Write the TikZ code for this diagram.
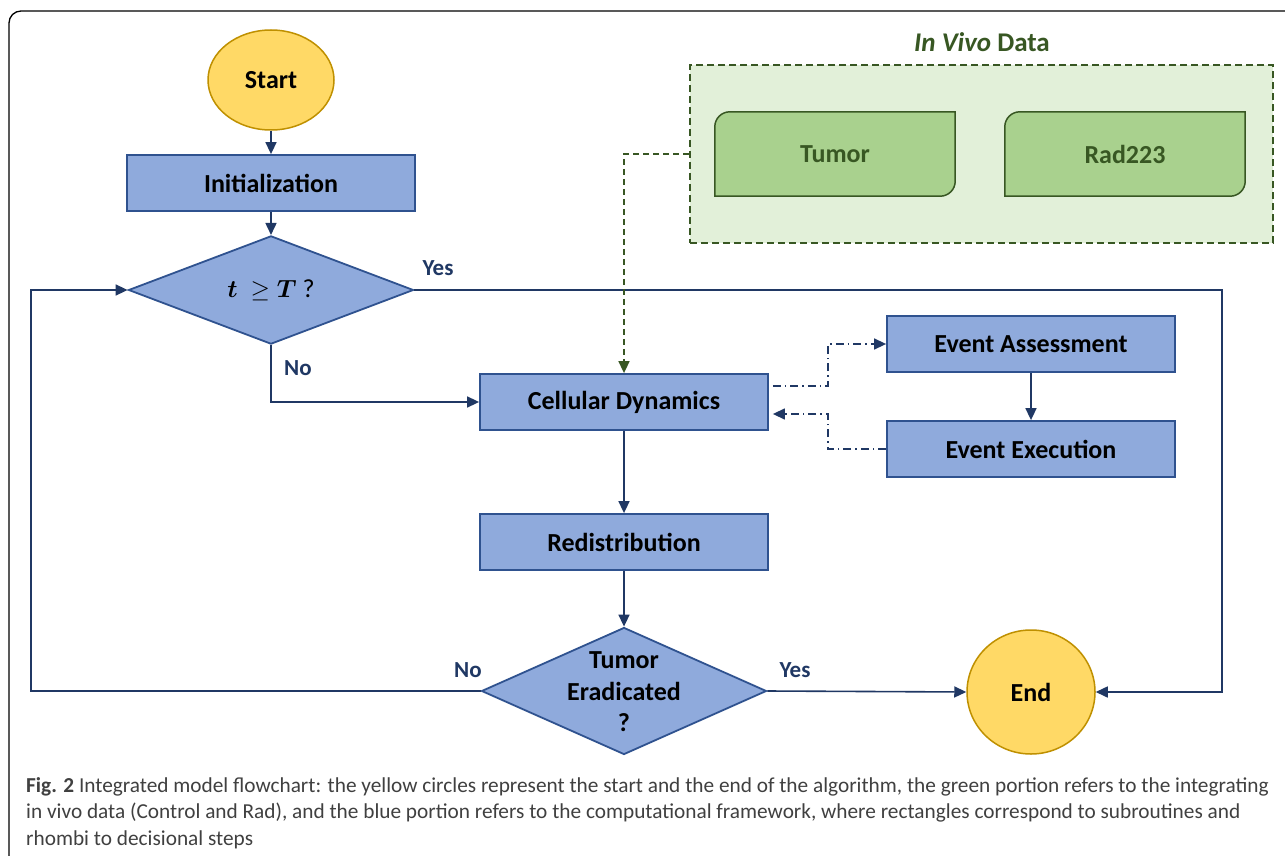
\documentclass[tikz,border=0pt]{standalone}
\usepackage{fontspec}
\setmainfont{Carlito}
\usepackage{amsmath,amssymb}
\usepackage{bm}
\usepackage{xcolor}
\usetikzlibrary{shapes.geometric,arrows.meta}
\definecolor{FlowBlue}{HTML}{8FAADC}
\definecolor{FlowBorder}{HTML}{2F528F}
\definecolor{FlowLine}{HTML}{203864}
\definecolor{TermYellow}{HTML}{FFD966}
\definecolor{TermBorder}{HTML}{BF9000}
\definecolor{DataBg}{HTML}{E2F0D9}
\definecolor{DataFill}{HTML}{A9D18E}
\definecolor{DataGreen}{HTML}{385723}
\definecolor{CaptionGray}{HTML}{404040}
\newcommand{\boxfont}{\fontsize{26}{31.5}\selectfont\bfseries}
\newcommand{\lblfont}{\fontsize{23}{27}\selectfont\bfseries}
\newcommand{\capfont}{\fontsize{21.3}{26.5}\selectfont}

\begin{document}
\begin{tikzpicture}[
	x=1pt, y=-1pt, % one unit per pixel, y running down
	% Style for the yellow start and end terminals
	terminal/.style={
		ellipse,
		draw=TermBorder,
		fill=TermYellow,
		line width=1.5pt,
		inner sep=0pt,
		font=\boxfont
	},
	% Style for the blue subroutine boxes
	process/.style={
		rectangle,
		draw=FlowBorder,
		fill=FlowBlue,
		line width=1.8pt,
		minimum width=288pt,
		minimum height=56pt,
		font=\boxfont
	},
	% Style for the blue decision rhombi
	decision/.style={
		diamond,
		draw=FlowBorder,
		fill=FlowBlue,
		line width=1.8pt,
		inner sep=0pt,
		minimum width=285pt
	},
	% Style for the green in vivo boxes
	databox/.style={
		rectangle,
		minimum width=240pt,
		minimum height=84pt,
		text=DataGreen,
		font=\boxfont
	},
	% Style for the solid connectors
	flow/.style={
		draw=FlowLine,
		line width=1.6pt,
		-{Triangle[length=12pt,width=11pt]}
	},
	% Style for the dash-dot event loop
	eventlink/.style={
		draw=FlowLine,
		line width=1.4pt,
		dash pattern=on 8pt off 4pt on 1.5pt off 4pt,
		-{Triangle[length=12pt,width=11pt]}
	},
	% Style for the dashed data connector
	datalink/.style={
		draw=DataGreen,
		line width=1.6pt,
		dash pattern=on 6pt off 4pt,
		-{Triangle[length=12pt,width=11pt]}
	},
	% Style for the Yes / No labels
	answer/.style={
		text=FlowLine,
		font=\lblfont
	}
	]
	
	% 0. Page and frame
	\fill[white] (0,0) rectangle (1285,856);
	\useasboundingbox (0,0) rectangle (1285,856);
	\clip (0,0) rectangle (1285,856);
	\draw[line width=1.3pt, rounded corners=12pt] (9,11) rectangle (1300,875);
	
	% 1. In vivo data
	\node[rectangle, draw=DataGreen, fill=DataBg, line width=1.6pt, dash pattern=on 7pt off 4pt,
		minimum width=583pt, minimum height=178pt] (invivo) at (981.5,154) {};
	\node[text=DataGreen, font=\fontsize{27}{32}\selectfont\bfseries] (invivotitle) at (982,42) {\textit{In Vivo} Data};
	\node[databox] (tumor) at (835,154) {Tumor};
	\node[databox] (rad) at (1125,154) {Rad223};
	\foreach \b in {tumor,rad}
		\draw[draw=DataGreen, fill=DataFill, line width=1.5pt]
			(\b.north) -- (\b.north east) [rounded corners=15pt] -- (\b.south east) [sharp corners]
			-- (\b.south west) [rounded corners=15pt] -- (\b.north west) [sharp corners] -- cycle;
	\node[databox] at (tumor) {Tumor};
	\node[databox] at (rad) {Rad223};
	
	% 2. Main flow
	\node[terminal, minimum width=126pt, minimum height=100pt] (start) at (271,80) {Start};
	\node[process] (init) at (271,183) {Initialization};
	\node[decision, minimum height=106pt] (check) at (271,290)
		{\fontsize{26}{31}\selectfont$\bm{t}\ \geq \bm{T}$\ ?};
	\node[process] (cell) at (624,402) {Cellular Dynamics};
	\node[process] (assess) at (1031,344) {Event Assessment};
	\node[process] (exec) at (1031,449) {Event Execution};
	\node[process] (redist) at (624,542) {Redistribution};
	\node[decision, minimum height=127pt,
		label={[font=\boxfont, align=center, yshift=-1pt]center:Tumor\\Eradicated\\?}] (erad) at (624,691) {};
	\node[terminal, minimum width=128pt, minimum height=124pt] (stop) at (1031,692) {End};
	
	\coordinate (yesturn) at (1222,290);
	\coordinate (noturn) at (31,691);
	
	% 3. Connectors
	\draw[flow] (start) -- (init);
	\draw[flow] (init) -- (check);
	\draw[flow] (check.east) -- (yesturn) |- (stop.east);
	\draw[flow] (check.south) |- (cell.west);
	\draw[datalink] (invivo.west) -| (cell.north);
	\draw[eventlink] ([xshift=4pt,yshift=16pt]cell.east) -- ++(55,0) |- (assess.west);
	\draw[eventlink] (exec.west) -- ++(-58,0) |- ([xshift=4pt,yshift=-12pt]cell.east);
	\draw[flow] (assess) -- (exec);
	\draw[flow] (cell) -- (redist);
	\draw[flow] (redist) -- (erad);
	\draw[flow] (erad.east) -- (stop.west);
	\draw[flow] (erad.west) -- (noturn) |- (check.west);
	
	% 4. Answers
	\node[answer] (yes1) at (438,268) {Yes};
	\node[answer] (no1) at (298,368) {No};
	\node[answer] (no2) at (468,670) {No};
	\node[answer] (yes2) at (795,670) {Yes};
	
	% 5. Caption
	\node[anchor=north west, align=left, inner sep=0pt, text=CaptionGray, font=\capfont] (caption) at (26,777)
		{\textbf{Fig. 2} Integrated model flowchart: the yellow circles represent the start and the end of the algorithm, the green portion refers to the integrating\\
		in vivo data (Control and Rad), and the blue portion refers to the computational framework, where rectangles correspond to subroutines and\\
		rhombi to decisional steps};
	
\end{tikzpicture}
\end{document}
